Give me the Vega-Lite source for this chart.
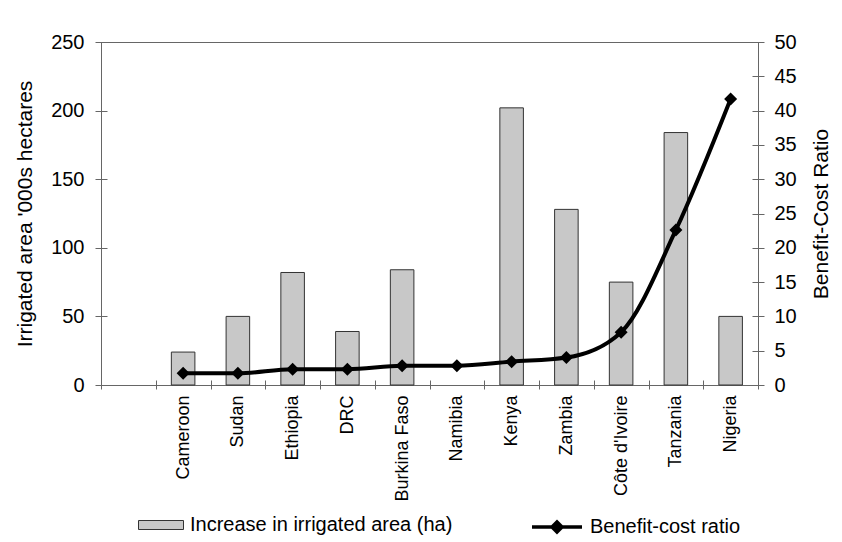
{
  "$schema": "https://vega.github.io/schema/vega-lite/v6.json",
  "width": 657,
  "height": 343,
  "autosize": {"type": "none"},
  "padding": {"left": 101, "top": 42, "right": 84, "bottom": 157},
  "background": "white",
  "config": {
    "font": "Liberation Sans",
    "view": {"stroke": "#666666", "strokeWidth": 1},
    "axis": {
      "labelFont": "Liberation Sans",
      "titleFont": "Liberation Sans",
      "labelColor": "black",
      "titleColor": "black",
      "tickColor": "#666666",
      "tickWidth": 1,
      "domain": false,
      "grid": false,
      "titleFontWeight": "normal"
    },
    "legend": {"labelFont": "Liberation Sans", "labelFontSize": 20, "labelColor": "black", "labelOffset": 6, "labelLimit": 0}
  },
  "data": {
    "values": [
      {"country": "Cameroon", "area": 24, "bcr": 1.7},
      {"country": "Sudan", "area": 50, "bcr": 1.7},
      {"country": "Ethiopia", "area": 82, "bcr": 2.3},
      {"country": "DRC", "area": 39, "bcr": 2.3},
      {"country": "Burkina Faso", "area": 84, "bcr": 2.8},
      {"country": "Namibia", "area": null, "bcr": 2.8},
      {"country": "Kenya", "area": 202, "bcr": 3.4},
      {"country": "Zambia", "area": 128, "bcr": 4.0},
      {"country": "Côte d'Ivoire", "area": 75, "bcr": 7.7},
      {"country": "Tanzania", "area": 184, "bcr": 22.6},
      {"country": "Nigeria", "area": 50, "bcr": 41.7}
    ]
  },
  "encoding": {
    "x": {
      "field": "country",
      "type": "nominal",
      "sort": null,
      "scale": {
        "domain": [" ", "Cameroon", "Sudan", "Ethiopia", "DRC", "Burkina Faso", "Namibia", "Kenya", "Zambia", "Côte d'Ivoire", "Tanzania", "Nigeria"],
        "paddingInner": 0,
        "paddingOuter": 0
      },
      "axis": {
        "title": null,
        "labelAngle": -90,
        "labelFontSize": 18,
        "tickBand": "extent",
        "tickSize": 9,
        "offset": -5,
        "labelPadding": 6
      }
    }
  },
  "layer": [
    {
      "mark": {"type": "bar", "width": {"band": 0.43}, "stroke": "#333333", "strokeWidth": 1},
      "encoding": {
        "y": {
          "field": "area",
          "type": "quantitative",
          "scale": {"domain": [0, 250]},
          "axis": {
            "orient": "left",
            "values": [0, 50, 100, 150, 200, 250],
            "title": "Irrigated area '000s hectares",
            "titleFontSize": 21,
            "labelFontSize": 20,
            "tickSize": 12,
            "offset": -6,
            "labelPadding": 11,
            "titlePadding": 15
          }
        },
        "fill": {
          "datum": "Increase in irrigated area (ha)",
          "type": "nominal",
          "scale": {"range": ["#c8c8c8"]},
          "legend": {
            "title": null,
            "orient": "none",
            "legendX": 37,
            "legendY": 460,
            "symbolType": "M-1,-0.2H1V0.2H-1Z",
            "symbolSize": 2025,
            "symbolStrokeColor": "#333333",
            "symbolStrokeWidth": 1
          }
        }
      }
    },
    {
      "mark": {"type": "line", "interpolate": "monotone", "strokeWidth": 4},
      "encoding": {
        "y": {
          "field": "bcr",
          "type": "quantitative",
          "scale": {"domain": [0, 50]},
          "axis": {
            "orient": "right",
            "values": [0, 5, 10, 15, 20, 25, 30, 35, 40, 45, 50],
            "title": "Benefit-Cost Ratio",
            "titleAngle": 270,
            "titleBaseline": "top",
            "titleFontSize": 21,
            "labelFontSize": 20,
            "tickSize": 12,
            "offset": -6,
            "labelPadding": 10,
            "titlePadding": 14
          }
        },
        "stroke": {
          "datum": "Benefit-cost ratio",
          "type": "nominal",
          "scale": {"range": ["black"]},
          "legend": {
            "title": null,
            "orient": "none",
            "legendX": 429,
            "legendY": 458,
            "symbolType": "M-1,0H1M0,-0.2L0.2,0L0,0.2L-0.2,0Z",
            "symbolSize": 2500,
            "symbolStrokeWidth": 3.5,
            "symbolFillColor": "black",
            "symbolStrokeColor": "black",
            "encode": {"symbols": {"update": {"fill": {"value": "black"}, "stroke": {"value": "black"}}}}
          }
        }
      }
    },
    {
      "mark": {"type": "point", "shape": "diamond", "size": 170, "filled": true, "color": "black", "opacity": 1},
      "encoding": {
        "y": {"field": "bcr", "type": "quantitative", "scale": {"domain": [0, 50]}, "axis": null}
      }
    }
  ],
  "resolve": {"scale": {"y": "independent", "fill": "independent", "stroke": "independent"}}
}
